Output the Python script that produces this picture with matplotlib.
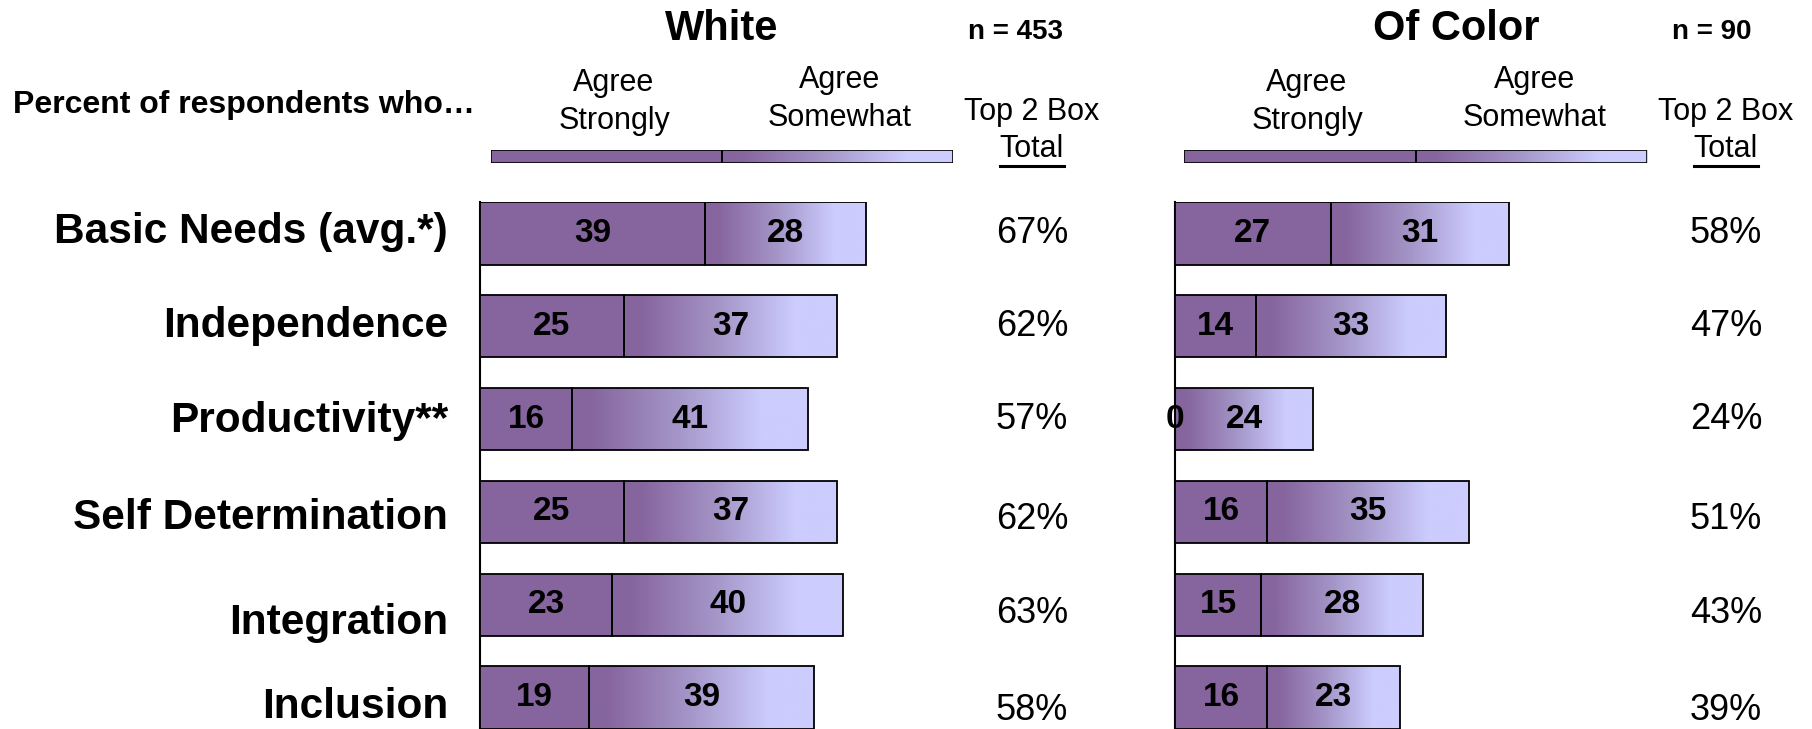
import numpy as np
import matplotlib.pyplot as plt
from matplotlib.colors import LinearSegmentedColormap
from matplotlib.lines import Line2D

categories = ["Basic Needs (avg.*)", "Independence", "Productivity**",
              "Self Determination", "Integration", "Inclusion"]
white_strongly = [39, 25, 16, 25, 23, 19]
white_somewhat = [28, 37, 41, 37, 40, 39]
color_strongly = [27, 14, 0, 16, 15, 16]
color_somewhat = [31, 33, 24, 35, 28, 23]
group_titles = ["White", "Of Color"]
group_n = ["n = 453", "n = 90"]

W, H = 1812, 729
DARK = "#86659e"
LIGHT = "#ccccff"
grad = LinearSegmentedColormap.from_list(
    "grad", [(0, DARK), (0.08, DARK), (0.45, "#a596c8"), (0.8, LIGHT), (1, LIGHT)])

plt.rcParams["font.family"] = ["Liberation Sans", "DejaVu Sans"]

fig = plt.figure(figsize=(W / 100, H / 100), dpi=100)

PX_PER_UNIT = 5.76
XMAX = 70
Y_TOP, Y_BOT = -0.34, 5.36
ROW_PX = 92.8
BAR_H = 0.67
label_dy = [-2, 0, 2, 6, 18, 9]
pct_dy = [0, 0, 0, 8, 9, 13]


def fx(px):
    return px / W


def fy(py):
    return 1 - py / H


def gradient_fill(ax, patch):
    x0, y0 = patch.get_x(), patch.get_y()
    w, h = patch.get_width(), patch.get_height()
    if w <= 0:
        return
    im = ax.imshow(np.linspace(0, 1, 256).reshape(1, -1), cmap=grad, aspect="auto",
                   extent=(x0, x0 + w, y0 + h, y0), zorder=2, interpolation="bilinear")
    im.set_clip_path(patch)


def draw_panel(left_px, strongly, somewhat, pct_x, show_labels):
    height_px = (Y_BOT - Y_TOP) * ROW_PX
    ax = fig.add_axes([fx(left_px), fy(202 + height_px), XMAX * PX_PER_UNIT / W, height_px / H])
    y = np.arange(len(categories))
    ax.barh(y, strongly, height=BAR_H, color=DARK, edgecolor="black", linewidth=1.3, zorder=3)
    bars2 = ax.barh(y, somewhat, left=strongly, height=BAR_H, facecolor="none",
                    edgecolor="black", linewidth=1.3, zorder=3)
    for b in bars2:
        gradient_fill(ax, b)
    for i, (s, m) in enumerate(zip(strongly, somewhat)):
        ax.text(s / 2, i, str(s), ha="center", va="center", fontsize=24,
                fontweight="bold", zorder=4)
        ax.text(s + m / 2, i, str(m), ha="center", va="center", fontsize=24,
                fontweight="bold", zorder=4)
        ax.annotate(f"{s + m}%", ((pct_x - left_px) / PX_PER_UNIT, i),
                    xytext=(0, -pct_dy[i] * 0.72), textcoords="offset points",
                    ha="center", va="center", fontsize=26, annotation_clip=False)
        if show_labels:
            ax.annotate(categories[i], (-32 / PX_PER_UNIT, i),
                        xytext=(0, -label_dy[i] * 0.72), textcoords="offset points",
                        ha="right", va="center", fontsize=30.5, fontweight="bold",
                        annotation_clip=False)
    ax.set_xlim(0, XMAX)
    ax.set_ylim(Y_BOT, Y_TOP)
    for side in ["top", "right", "bottom"]:
        ax.spines[side].set_visible(False)
    ax.spines["left"].set_linewidth(1.5)
    ax.set_xticks([])
    ax.set_yticks([])
    ax.patch.set_alpha(0)
    return ax


def draw_legend_bar(x0, x1):
    lax = fig.add_axes([fx(x0), fy(163), (x1 - x0) / W, 13 / H])
    lax.barh([0], [1], height=1, color=DARK, edgecolor="black", linewidth=1.2, zorder=3)
    b = lax.barh([0], [1], left=[1], height=1, facecolor="none", edgecolor="black",
                 linewidth=1.2, zorder=3)
    gradient_fill(lax, b[0])
    lax.set_xlim(0, 2)
    lax.set_ylim(0.5, -0.5)
    lax.axis("off")


def header(title, n_text, title_x, n_x, strong_x, some_x, top_x):
    fig.text(fx(title_x), fy(29), title, ha="center", va="center", fontsize=30, fontweight="bold")
    fig.text(fx(n_x), fy(32), n_text, ha="center", va="center", fontsize=20, fontweight="bold")
    fig.text(fx(strong_x), fy(102), "Agree\nStrongly", ha="center", va="center",
             fontsize=22, linespacing=1.35)
    fig.text(fx(some_x), fy(99), "Agree\nSomewhat", ha="center", va="center",
             fontsize=22, linespacing=1.35)
    fig.text(fx(top_x), fy(112), "Top 2 Box", ha="center", va="center", fontsize=22)
    tot = fig.text(fx(top_x), fy(149), "Total", ha="center", va="center", fontsize=22)
    return tot


draw_panel(480, white_strongly, white_somewhat, 1032, True)
draw_panel(1175, color_strongly, color_somewhat, 1726, False)
draw_legend_bar(491, 953)
draw_legend_bar(1184, 1647)
totals = [header(group_titles[0], group_n[0], 722, 1015, 614, 840, 1032),
          header(group_titles[1], group_n[1], 1456, 1712, 1307, 1535, 1726)]

fig.text(fx(13), fy(105), "Percent of respondents who\u2026", ha="left", va="center",
         fontsize=23, fontweight="bold")

fig.canvas.draw()
renderer = fig.canvas.get_renderer()
for t in totals:
    bb = t.get_window_extent(renderer)
    fig.add_artist(Line2D([bb.x0 / W, bb.x1 / W], [(bb.y0 - 2) / H, (bb.y0 - 2) / H],
                          color="black", linewidth=2.2, transform=fig.transFigure))

fig.savefig("out.png", dpi=100)
